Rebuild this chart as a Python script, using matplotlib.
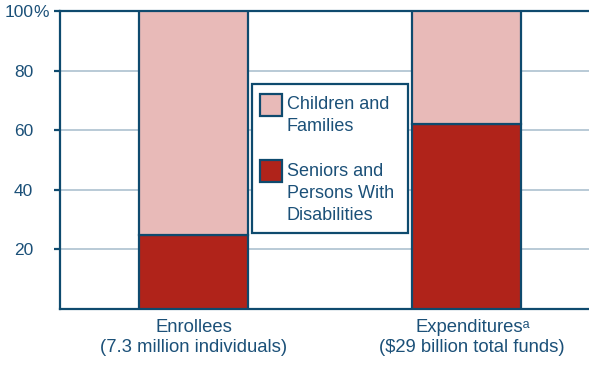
import numpy as np
import matplotlib.pyplot as plt
from matplotlib.patches import Rectangle
from matplotlib.transforms import ScaledTranslation

plt.rcParams['font.family'] = ['Liberation Sans', 'DejaVu Sans']

# data
categories = ['Enrollees\n(7.3 million individuals)',
              'Expenditures\u1d43\n(\\$29 billion total funds)']
seniors = [25, 62]
children = [75, 38]
series_names = ['Children and\nFamilies', 'Seniors and\nPersons With\nDisabilities']
yticks = [20, 40, 60, 80, 100]

navy = '#0e4a6e'
text_col = '#1b5078'
pink = '#e8bab8'
red = '#b0231a'
grid_col = '#b9cad6'

W, H = 589, 366
fig = plt.figure(figsize=(W / 100, H / 100), dpi=100)
ax = fig.add_axes([60 / W, 1 - 309 / H, 1 - 60 / W, 298 / H])

x = np.arange(len(categories))
w = 0.4
ax.bar(x, seniors, w, color=red, edgecolor=navy, linewidth=1.6, zorder=3)
ax.bar(x, children, w, bottom=seniors, color=pink, edgecolor=navy, linewidth=1.6, zorder=3)

ax.set_ylim(0, 100)
ax.set_xlim(-0.49, 1.45)
ax.set_yticks(yticks)
ax.set_yticklabels([str(v) for v in yticks])
ax.set_xticks(x)
ax.set_xticklabels(categories)
ax.yaxis.grid(True, color=grid_col, linewidth=1.4, zorder=0)
ax.set_axisbelow(True)

# the % sign hangs right of the right-aligned "100"
ax.annotate('%', xy=(0, 100), xycoords=('axes fraction', 'data'),
            xytext=(-27 * 0.72, 0), textcoords='offset points',
            ha='left', va='center_baseline', fontsize=12.5, color=text_col)

for s in ['left', 'bottom', 'top']:
    ax.spines[s].set_color(navy)
    ax.spines[s].set_linewidth(1.6)
ax.spines['right'].set_visible(False)

ax.tick_params(axis='y', colors=navy, labelcolor=text_col, labelsize=12.5,
               length=4.3, width=1.6, pad=15)
ax.tick_params(axis='x', length=0, labelcolor=text_col, labelsize=13.3, pad=7.5)

# second label sits a little right of its bar
lab = ax.get_xticklabels()[1]
lab.set_transform(lab.get_transform() + ScaledTranslation(6 / 100, 0, fig.dpi_scale_trans))

# legend box drawn by hand so the swatches sit beside the first text line
def px(xp, yp):
    return xp / W, 1 - yp / H

fig.patches.append(Rectangle(px(252, 233), 156 / W, 149 / H, transform=fig.transFigure,
                             facecolor='white', edgecolor=navy, linewidth=1.6, zorder=5))
for name, col, sw_top, top in zip(series_names, [pink, red], [94, 160], [96, 163]):
    fig.patches.append(Rectangle(px(260, sw_top + 22), 22 / W, 22 / H,
                                 transform=fig.transFigure, facecolor=col,
                                 edgecolor=navy, linewidth=1.6, zorder=6))
    fig.text(*px(287, top), name, fontsize=13, color=text_col, ha='left',
             va='top', linespacing=1.38, zorder=6)

fig.savefig('out.png', dpi=100)
